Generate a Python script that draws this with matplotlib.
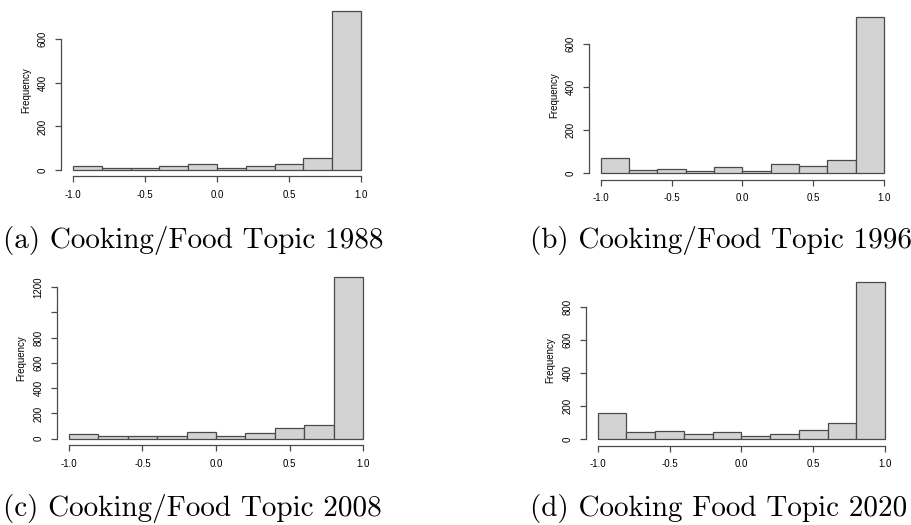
import matplotlib
matplotlib.use('Agg')
import matplotlib.pyplot as plt
import numpy as np

# bin edges shared by all four histograms (R hist, breaks of 0.2)
edges = np.linspace(-1.0, 1.0, 11)

counts_1988 = [18, 11, 8, 18, 26, 11, 17, 26, 54, 730]
counts_1996 = [70, 14, 19, 12, 28, 12, 42, 32, 60, 727]
counts_2008 = [40, 24, 18, 24, 53, 24, 47, 84, 111, 1277]
counts_2020 = [159, 46, 52, 34, 46, 20, 30, 54, 97, 950]

captions = ['(a) Cooking/Food Topic 1988', '(b) Cooking/Food Topic 1996',
            '(c) Cooking/Food Topic 2008', '(d) Cooking Food Topic 2020']
yticks = [[0, 200, 400, 600],
          [0, 200, 400, 600],
          [0, 200, 400, 600, 800, 1000, 1200],
          [0, 200, 400, 600, 800]]
# R drops the 1000 label on the 2008 panel because it would overlap
ytick_labels = [['0', '200', '400', '600'],
                ['0', '200', '400', '600'],
                ['0', '200', '400', '600', '800', '', '1200'],
                ['0', '200', '400', '600', '800']]
xticks = [-1.0, -0.5, 0.0, 0.5, 1.0]
xtick_labels = ['-1.0', '-0.5', '0.0', '0.5', '1.0']

all_counts = [counts_1988, counts_1996, counts_2008, counts_2020]

W, H = 911, 525
plt.rcParams['axes.unicode_minus'] = False

fig = plt.figure(figsize=(W / 100, H / 100), dpi=100)

# plot regions in pixels: left, right, top, bottom
boxes = [(61.5, 372.5, 4.6, 176.4),
         (589.4, 895.3, 10.4, 179.6),
         (57.2, 374.8, 270.8, 445.2),
         (586.2, 896.5, 275.4, 445.6)]
cap_pos = [(3, 248), (530, 248), (3, 516), (530, 516)]

line_col = '#4a4a4a'
sans = 'Liberation Sans'

for i, counts in enumerate(all_counts):
    l, r, t, b = boxes[i]
    ax = fig.add_axes([l / W, 1 - b / H, (r - l) / W, (b - t) / H])
    ymax = max(counts)
    ax.hist(edges[:-1], bins=edges, weights=counts, color='#d3d3d3',
            edgecolor=line_col, linewidth=0.9)
    ax.set_xlim(-1.08, 1.08)
    ax.set_ylim(-0.04 * ymax, 1.04 * ymax)

    for s in ['top', 'right']:
        ax.spines[s].set_visible(False)
    ax.spines['left'].set_bounds(yticks[i][0], yticks[i][-1])
    ax.spines['bottom'].set_bounds(-1.0, 1.0)
    for s in ['left', 'bottom']:
        ax.spines[s].set_color(line_col)
        ax.spines[s].set_linewidth(0.9)

    ax.set_xticks(xticks)
    ax.set_xticklabels(xtick_labels, fontfamily=sans, fontsize=7)
    ax.set_yticks(yticks[i])
    ax.set_yticklabels(ytick_labels[i], fontfamily=sans, fontsize=7,
                       rotation=90, va='center')
    ax.tick_params(length=4.3, width=0.9, color=line_col, pad=5.5)
    ax.set_ylabel('Frequency', fontfamily=sans, fontsize=7, labelpad=5)

    cx, cy = cap_pos[i]
    fig.text(cx / W, 1 - cy / H, captions[i], fontfamily='cmr10',
             fontsize=21, va='baseline', ha='left')

fig.savefig('out.png', dpi=100)
